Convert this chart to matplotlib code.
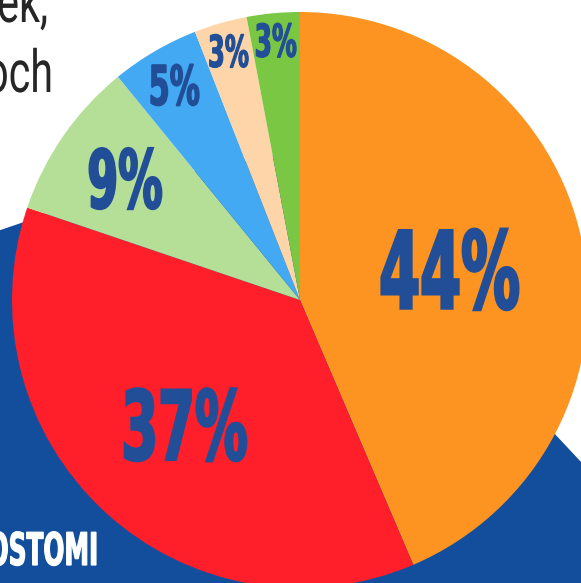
import numpy as np
import matplotlib
matplotlib.use("Agg")
import matplotlib.pyplot as plt
from matplotlib import patheffects
from matplotlib.patches import Polygon
from matplotlib.transforms import Affine2D

shares = [44, 37, 9, 5, 3, 3]
labels = ["44%", "37%", "9%", "5%", "3%", "3%"]
colors = ["#FD9421", "#FE1F2B", "#B5DF97", "#43A9F2", "#FDD5A9", "#79C743"]

W, H = 581, 583
NAVY = "#124E9C"
INK = "#214E97"


class Tall(patheffects.AbstractPathEffect):
    # stretch text upward from its baseline (x0, y0 in display px) so a normal
    # font looks condensed; optional stroke to fatten the glyphs
    def __init__(self, x0, y0, sy, lw=0):
        super().__init__()
        self.x0, self.y0, self.sy, self.lw = x0, y0, sy, lw

    def draw_path(self, renderer, gc, tpath, affine, rgbFace=None):
        t = affine + Affine2D().translate(-self.x0, -self.y0).scale(1, self.sy).translate(self.x0, self.y0)
        if self.lw:
            gc0 = renderer.new_gc()
            gc0.copy_properties(gc)
            gc0.set_linewidth(self.lw)
            gc0.set_foreground(rgbFace)
            gc0.set_joinstyle("miter")
            renderer.draw_path(gc0, tpath, t, rgbFace)
            gc0.restore()
        else:
            renderer.draw_path(gc, tpath, t, rgbFace)


def narrow_text(ax, x, y, s, size_px, sx, lw=0, **kw):
    # size_px is the visual em height, sx the width squeeze
    x0, y0 = ax.transData.transform((x, y))
    return ax.text(x, y, s, fontsize=size_px * sx * 0.72,
                   path_effects=[Tall(x0, y0, 1 / sx, lw * 0.72)], **kw)


fig = plt.figure(figsize=(W / 100, H / 100), dpi=100)
ax = fig.add_axes([0, 0, 1, 1])

# blue backdrop shape (pixel coords, y down)
blob = [(-20, 237), (24, 222), (100, 190), (300, 150), (450, 250),
        (553, 432), (640, 525), (640, 640), (-20, 640)]
ax.add_patch(Polygon([(x, H - y) for x, y in blob], closed=True,
                     fc=NAVY, ec="none", zorder=0))

cx, cy, R = 300, H - 300, 288
wedges, _ = ax.pie(shares, colors=colors, startangle=90, counterclock=False,
                   center=(cx, cy), radius=R, wedgeprops=dict(linewidth=0))
ax.set_xlim(0, W)
ax.set_ylim(0, H)
ax.set_aspect("equal")
ax.axis("off")

# label distance (fraction of radius) and digit height in px
label_r = [0.53, 0.59, 0.74, 0.865, 0.90, 0.906]
label_h = [78, 70, 59, 40, 32, 33]

for w, lab, rf, h in zip(wedges, labels, label_r, label_h):
    ang = np.deg2rad((w.theta1 + w.theta2) / 2)
    x = cx + rf * R * np.cos(ang)
    y = cy + rf * R * np.sin(ang) - h / 2
    narrow_text(ax, x, y, lab, h / 0.729, 0.55, lw=h * 0.035,
                ha="center", va="baseline", color=INK,
                family="DejaVu Sans", weight="bold", zorder=5)

# cropped caption text at top left
narrow_text(ax, 48, H - 22, "ek,", 59, 0.7, ha="right", va="baseline",
            color="#262626", family="Roboto", weight="normal", zorder=5)
narrow_text(ax, 53, H - 92, "och", 59, 0.7, ha="right", va="baseline",
            color="#262626", family="Roboto", weight="normal", zorder=5)

# white caption on the blue shape
narrow_text(ax, 98, H - 565, "OSTOMI", 45, 0.55, lw=1.2, ha="right", va="baseline",
            color="white", family="DejaVu Sans", weight="bold", zorder=5)

fig.savefig("out.png", dpi=100)
